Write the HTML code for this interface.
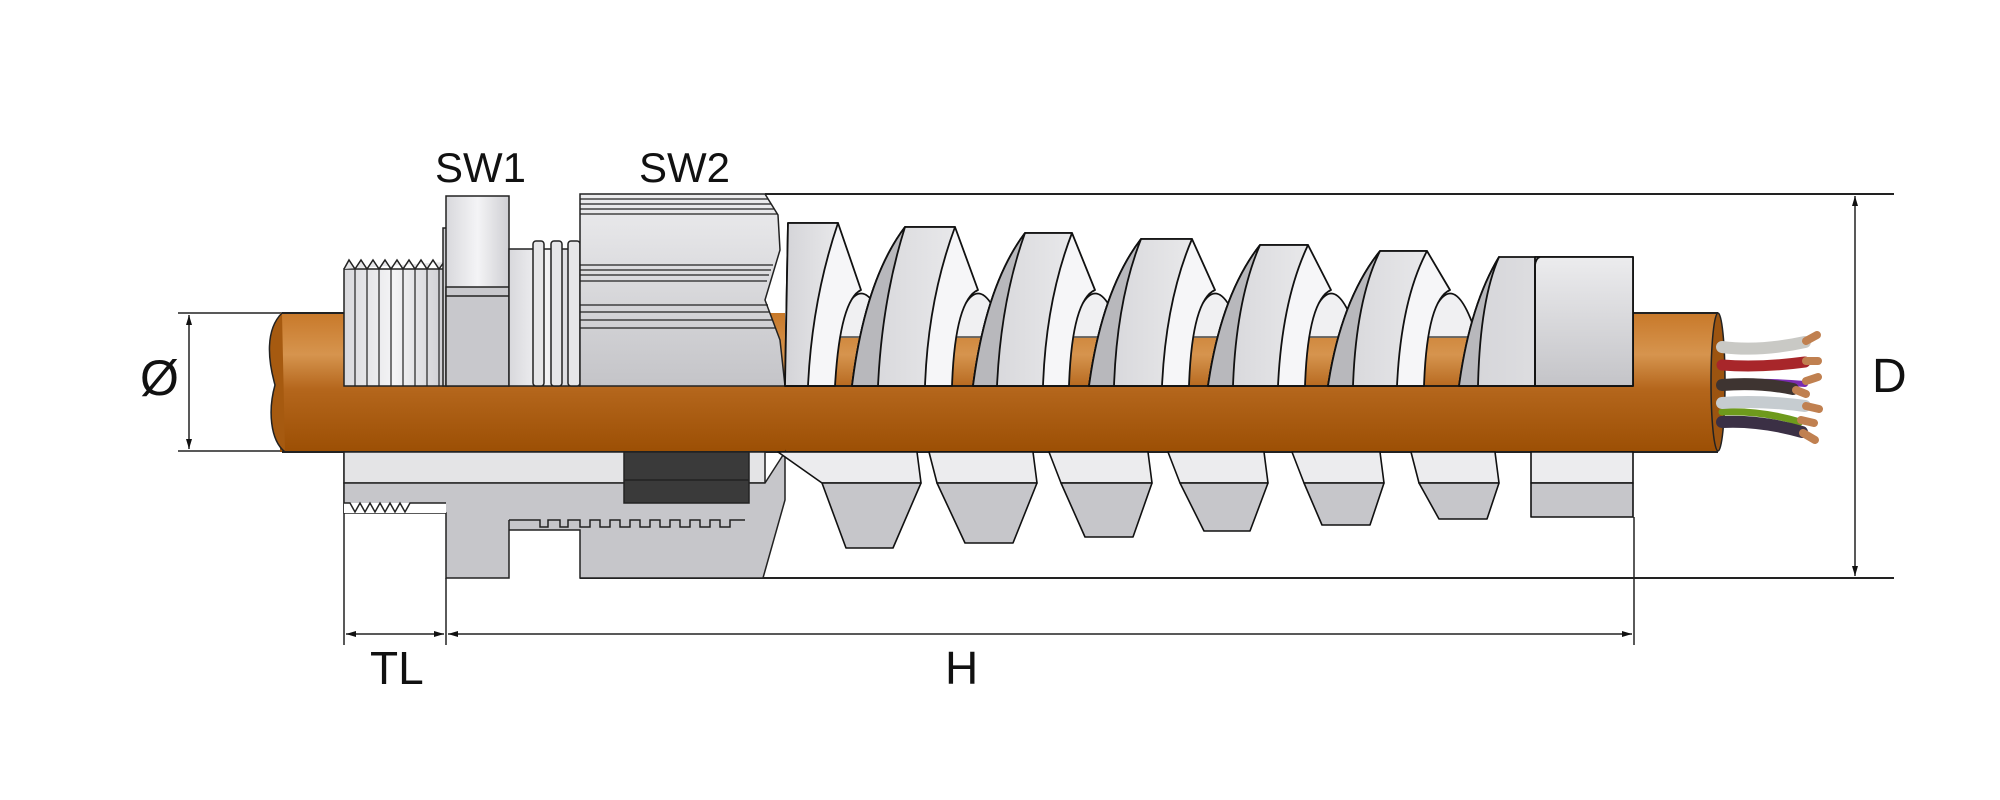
<!DOCTYPE html>
<html><head><meta charset="utf-8"><style>
html,body{margin:0;padding:0;background:#fff;}
svg{display:block;}
text{font-family:"Liberation Sans",sans-serif;fill:#111;}
</style></head><body>
<svg width="2000" height="800" viewBox="0 0 2000 800" xmlns="http://www.w3.org/2000/svg">
<defs>
<linearGradient id="cab" x1="0" y1="313" x2="0" y2="452" gradientUnits="userSpaceOnUse">
<stop offset="0" stop-color="#c8792a"/><stop offset="0.3" stop-color="#d6944e"/><stop offset="0.55" stop-color="#b4661c"/><stop offset="1" stop-color="#9c4f04"/>
</linearGradient>
<linearGradient id="met" x1="0" y1="0" x2="1" y2="0">
<stop offset="0" stop-color="#d8d8dc"/><stop offset="0.5" stop-color="#f4f4f6"/><stop offset="1" stop-color="#cfcfd3"/>
</linearGradient>
<linearGradient id="face" x1="0" y1="0" x2="1" y2="0">
<stop offset="0" stop-color="#d4d4d8"/><stop offset="1" stop-color="#e8e8ea"/>
</linearGradient>
<linearGradient id="metv" x1="0" y1="0" x2="0" y2="1">
<stop offset="0" stop-color="#ececee"/><stop offset="1" stop-color="#c4c4c8"/>
</linearGradient>
<marker id="ar" viewBox="0 0 10 10" refX="10" refY="5" markerWidth="10" markerHeight="10" orient="auto-start-reverse" markerUnits="userSpaceOnUse"><path d="M0,2 L10,5 L0,8z" fill="#111"/></marker>
</defs>

<!-- dimension lines -->
<g stroke="#222" stroke-width="1.5" fill="none">
<line x1="178" y1="313" x2="306" y2="313"/>
<line x1="178" y1="451" x2="306" y2="451"/>
<line x1="189" y1="315" x2="189" y2="449" marker-start="url(#ar)" marker-end="url(#ar)"/>
<line x1="765" y1="194" x2="1894" y2="194" stroke-width="2"/>
<line x1="580" y1="578" x2="1894" y2="578" stroke-width="2"/>
<line x1="1855" y1="196" x2="1855" y2="576" marker-start="url(#ar)" marker-end="url(#ar)"/>
<line x1="344" y1="386" x2="344" y2="645"/>
<line x1="446" y1="578" x2="446" y2="645"/>
<line x1="1634" y1="517" x2="1634" y2="645"/>
<line x1="346" y1="634" x2="444" y2="634" marker-start="url(#ar)" marker-end="url(#ar)"/>
<line x1="448" y1="634" x2="1632" y2="634" marker-start="url(#ar)" marker-end="url(#ar)"/>
</g>

<!-- cable -->
<rect x="280" y="313" width="1438" height="139" fill="url(#cab)"/>
<rect x="785" y="313" width="848" height="24" fill="#fff"/>
<path d="M282,313 C265,330 268,360 275,385 C268,410 270,440 285,452" fill="#a65a10" stroke="#222" stroke-width="1.5"/>
<line x1="282" y1="313" x2="344" y2="313" stroke="#222" stroke-width="2"/>
<line x1="282" y1="452" x2="1718" y2="452" stroke="#222" stroke-width="2"/>
<line x1="1633" y1="313" x2="1718" y2="313" stroke="#222" stroke-width="2"/>
<ellipse cx="1718" cy="382" rx="7" ry="69" fill="#9c5410" stroke="#222" stroke-width="1.5"/>

<!-- wires -->
<g stroke-linecap="round" fill="none">
<path d="M1722,347 Q1760,352 1805,342" stroke="#c9c9c5" stroke-width="12"/>
<path d="M1722,365 Q1760,368 1805,362" stroke="#a8262a" stroke-width="11"/>
<path d="M1722,383 Q1760,380 1805,384" stroke="#7a2bb0" stroke-width="6"/>
<path d="M1722,385 Q1760,382 1793,389" stroke="#3e3431" stroke-width="12"/>
<path d="M1722,412 Q1760,410 1800,422" stroke="#6e9a1c" stroke-width="7"/>
<path d="M1722,403 Q1760,400 1805,406" stroke="#c6ccd0" stroke-width="12"/>
<path d="M1722,422 Q1760,420 1802,432" stroke="#3b3045" stroke-width="12"/>
</g>
<g stroke="#c08050" stroke-width="8" stroke-linecap="round">
<line x1="1806" y1="341" x2="1817" y2="335"/><line x1="1806" y1="361" x2="1818" y2="361"/>
<line x1="1806" y1="381" x2="1818" y2="377"/><line x1="1796" y1="390" x2="1806" y2="394"/>
<line x1="1806" y1="406" x2="1819" y2="409"/><line x1="1801" y1="420" x2="1814" y2="423"/>
<line x1="1803" y1="433" x2="1815" y2="440"/>
</g>

<!-- lower section body -->
<g stroke="#222" stroke-width="1.5">
<rect x="344" y="452" width="421" height="31" fill="#e4e4e6"/>
<path d="M344,483 L765,483 L785,452 L785,500 L763,578 L580,578 L580,530 L509,530 L509,520 L509,578 L446,578 L446,513 L344,513 Z" fill="#c6c6ca"/>
<path d="M446,513 L344,513 L344,503 L446,503 Z" fill="#fff" stroke="none"/>
<path d="M344,503 L350,503 L355,512 L360,503 L365,512 L370,503 L375,512 L380,503 L385,512 L390,503 L395,512 L400,503 L405,512 L410,503 L446,503" fill="none"/>
<path d="M509,520 L540,520 L540,527 L548,527 L548,520 L560,520 L560,527 L568,527 L568,520 L580,520 L580,527 L590,527 L590,520 L600,520 L600,527 L610,527 L610,520 L620,520 L620,527 L630,527 L630,520 L640,520 L640,527 L650,527 L650,520 L660,520 L660,527 L670,527 L670,520 L680,520 L680,527 L690,527 L690,520 L700,520 L700,527 L710,527 L710,520 L720,520 L720,527 L730,527 L730,520 L745,520" fill="none"/>
<rect x="624" y="452" width="125" height="51" fill="#3a3a3a"/>
<line x1="624" y1="480" x2="749" y2="480"/>
</g>

<!-- upper gland parts -->
<g stroke="#222" stroke-width="1.5">
<rect x="344" y="269" width="100" height="117" fill="url(#met)"/>
<path d="M344,269 L349,260 L355,269 L361,260 L367,269 L373,260 L379,269 L385,260 L391,269 L397,260 L403,269 L409,260 L415,269 L421,260 L427,269 L433,260 L439,269 L444,262" fill="#e6e6e8"/>
<g stroke-width="1.2"><line x1="355" y1="269" x2="355" y2="386"/><line x1="367" y1="269" x2="367" y2="386"/><line x1="379" y1="269" x2="379" y2="386"/><line x1="391" y1="269" x2="391" y2="386"/><line x1="403" y1="269" x2="403" y2="386"/><line x1="415" y1="269" x2="415" y2="386"/><line x1="427" y1="269" x2="427" y2="386"/><line x1="439" y1="269" x2="439" y2="386"/></g>
<rect x="443" y="228" width="5" height="158" fill="#d0d0d4"/>
<rect x="446" y="196" width="63" height="190" fill="url(#met)"/>
<rect x="446" y="287" width="63" height="99" fill="#c8c8cc"/>
<line x1="446" y1="296" x2="509" y2="296"/>
<rect x="509" y="249" width="71" height="137" fill="url(#met)"/>
<rect x="533" y="241" width="11" height="145" rx="3" fill="#e6e6e8"/>
<rect x="551" y="241" width="11" height="145" rx="3" fill="#e6e6e8"/>
<rect x="568" y="241" width="12" height="145" rx="3" fill="#e6e6e8"/>
<path d="M580,194 L765,194 L778,215 L780,250 L765,300 L780,340 L785,386 L580,386 Z" fill="url(#metv)"/>
<g stroke-width="1.3">
<line x1="580" y1="199" x2="768" y2="199"/><line x1="580" y1="204" x2="771" y2="204"/><line x1="580" y1="209" x2="774" y2="209"/><line x1="580" y1="214" x2="777" y2="214"/>
<line x1="580" y1="265" x2="773" y2="265"/><line x1="580" y1="270" x2="771" y2="270"/><line x1="580" y1="275" x2="769" y2="275"/><line x1="580" y1="281" x2="767" y2="281"/>
<line x1="580" y1="305" x2="768" y2="305"/><line x1="580" y1="312" x2="770" y2="312"/><line x1="580" y1="320" x2="773" y2="320"/><line x1="580" y1="328" x2="775" y2="328"/>
</g>
</g>

<!-- spiral upper -->
<g stroke="#111" stroke-width="1.8" stroke-linejoin="round">
<!-- arches (back) -->
<g fill="#f0f0f2">
<path d="M835,337 Q861,250 888,337 Z"/>
<path d="M952,337 Q978,250 1005,337 Z"/>
<path d="M1069,337 Q1095,250 1122,337 Z"/>
<path d="M1189,337 Q1215,250 1242,337 Z"/>
<path d="M1305,337 Q1331,250 1358,337 Z"/>
<path d="M1424,337 Q1450,250 1477,337 Z"/>
</g>
<line x1="785" y1="337" x2="1531" y2="337" stroke-width="1" stroke="#999"/>

<!-- turn 1 -->
<path d="M785,386 L788,223 L838,223 L861,290 Q840,300 835,386 Z" fill="#f6f6f8"/>
<path d="M785,386 L788,223 L838,223 Q812,300 808,386 Z" fill="url(#face)"/>
<!-- turn 2 -->
<path d="M852,386 Q865,280 905,227 L955,227 L978,290 Q955,300 952,386 Z" fill="#f6f6f8"/>
<path d="M852,386 Q865,280 905,227 L955,227 Q928,300 925,386 Z" fill="url(#face)"/>
<path d="M852,386 Q865,280 905,227 Q882,300 878,386 Z" fill="#b8b8bc"/>
<!-- turn 3 -->
<path d="M973,386 Q986,285 1025,233 L1072,233 L1095,290 Q1072,300 1069,386 Z" fill="#f6f6f8"/>
<path d="M973,386 Q986,285 1025,233 L1072,233 Q1046,300 1043,386 Z" fill="url(#face)"/>
<path d="M973,386 Q986,285 1025,233 Q1001,300 997,386 Z" fill="#b8b8bc"/>
<!-- turn 4 -->
<path d="M1089,386 Q1102,290 1141,239 L1192,239 L1215,290 Q1192,300 1189,386 Z" fill="#f6f6f8"/>
<path d="M1089,386 Q1102,290 1141,239 L1192,239 Q1166,300 1162,386 Z" fill="url(#face)"/>
<path d="M1089,386 Q1102,290 1141,239 Q1117,300 1114,386 Z" fill="#b8b8bc"/>
<!-- turn 5 -->
<path d="M1208,386 Q1221,295 1260,245 L1308,245 L1331,290 Q1308,300 1305,386 Z" fill="#f6f6f8"/>
<path d="M1208,386 Q1221,295 1260,245 L1308,245 Q1282,300 1278,386 Z" fill="url(#face)"/>
<path d="M1208,386 Q1221,295 1260,245 Q1236,300 1233,386 Z" fill="#b8b8bc"/>
<!-- turn 6 -->
<path d="M1328,386 Q1341,300 1380,251 L1427,251 L1450,290 Q1427,300 1424,386 Z" fill="#f6f6f8"/>
<path d="M1328,386 Q1341,300 1380,251 L1427,251 Q1401,300 1397,386 Z" fill="url(#face)"/>
<path d="M1328,386 Q1341,300 1380,251 Q1356,300 1353,386 Z" fill="#b8b8bc"/>
<!-- turn 7 + block -->
<path d="M1459,386 Q1470,305 1499,257 L1633,257 L1633,386 Z" fill="url(#face)"/>
<path d="M1459,386 Q1470,305 1499,257 Q1480,300 1478,386 Z" fill="#b8b8bc"/>
<rect x="1535" y="257" width="98" height="129" fill="url(#metv)"/>
<path d="M1535,386 L1535,265 Q1536,258 1540,257" fill="none"/>
<line x1="785" y1="386" x2="1633" y2="386"/>
</g>

<!-- spiral lower -->
<g stroke="#111" stroke-width="1.6" stroke-linejoin="round">
<path d="M778,452 L917,452 L921,483 L822,483 Z" fill="#ececee"/>
<path d="M822,483 L921,483 L893,548 L846,548 Z" fill="#c6c6ca"/>
<path d="M929,452 L1033,452 L1037,483 L937,483 Z" fill="#ececee"/>
<path d="M937,483 L1037,483 L1013,543 L965,543 Z" fill="#c6c6ca"/>
<path d="M1049,452 L1148,452 L1152,483 L1061,483 Z" fill="#ececee"/>
<path d="M1061,483 L1152,483 L1133,537 L1085,537 Z" fill="#c6c6ca"/>
<path d="M1168,452 L1264,452 L1268,483 L1180,483 Z" fill="#ececee"/>
<path d="M1180,483 L1268,483 L1250,531 L1204,531 Z" fill="#c6c6ca"/>
<path d="M1292,452 L1380,452 L1384,483 L1304,483 Z" fill="#ececee"/>
<path d="M1304,483 L1384,483 L1370,525 L1322,525 Z" fill="#c6c6ca"/>
<path d="M1411,452 L1495,452 L1499,483 L1419,483 Z" fill="#ececee"/>
<path d="M1419,483 L1499,483 L1487,519 L1439,519 Z" fill="#c6c6ca"/>
<rect x="1531" y="452" width="102" height="31" fill="#ececee"/>
<rect x="1531" y="483" width="102" height="34" fill="#c6c6ca"/>
</g>

<!-- labels -->
<text x="435" y="182" font-size="42">SW1</text>
<text x="639" y="182" font-size="42">SW2</text>
<text x="140" y="395" font-size="50">Ø</text>
<text x="1872" y="392" font-size="48">D</text>
<text x="370" y="684" font-size="46">TL</text>
<text x="945" y="684" font-size="46">H</text>
</svg>
</body></html>
